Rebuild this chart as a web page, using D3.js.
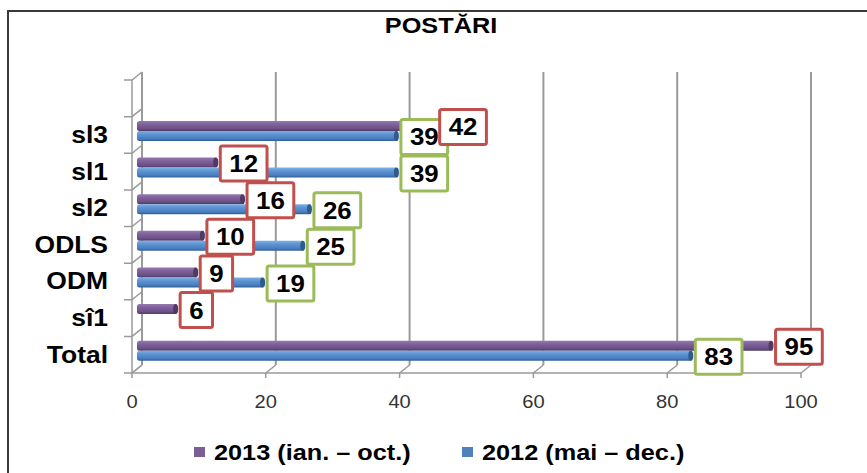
<!DOCTYPE html>
<html lang="ro">
<head>
<meta charset="UTF-8">
<title>POSTĂRI</title>
<script src="https://d3js.org/d3.v7.min.js"></script>
<style>
  body { margin: 0; background: #fff; }
  svg { display: block; font-family: "Liberation Sans", Arial, sans-serif; }
</style>
</head>
<body>
<script>
// data (top to bottom, first band is empty in the original)
const categories = ["", "sl3", "sl1", "sl2", "ODLS", "ODM", "sî1", "Total"];
const series = ["2013 (ian. – oct.)", "2012 (mai – dec.)"];
const values2013 = [null, 42, 12, 16, 10, 9, 6, 95];
const values2012 = [null, 39, 39, 26, 25, 19, null, 83];
const ticks = [0, 20, 40, 60, 80, 100];

const W = 867, H = 473;
const sx = 1.15;           // the original text is a bit stretched
const depth = { dx: 10, dy: -8 };
const half = { dx: 5, dy: -4 };

const svg = d3.select("body").append("svg")
  .attr("width", W).attr("height", H);

const defs = svg.append("defs");
function grad(id, stops) {
  const g = defs.append("linearGradient").attr("id", id)
    .attr("x1", 0).attr("y1", 0).attr("x2", 0).attr("y2", 1);
  stops.forEach(s => g.append("stop").attr("offset", s[0]).attr("stop-color", s[1]));
}
grad("gPurple", [[0, "#9479b0"], [0.35, "#7f619b"], [0.75, "#6d5187"], [1, "#4f3a64"]]);
grad("gBlue", [[0, "#7fb0e6"], [0.35, "#5d93d3"], [0.75, "#4a7fc0"], [1, "#335f96"]]);

const colors = ["url(#gPurple)", "url(#gBlue)"];
const capColors = ["#4e3a63", "#30598c"];
const legendColors = ["#7b5e96", "#4f81bd"];
const boxColors = ["#c0504d", "#9bbb59"];

// frame
svg.append("rect")
  .attr("x", 8).attr("y", 11).attr("width", W).attr("height", H)
  .attr("fill", "none").attr("stroke", "#3a3a3a").attr("stroke-width", 2);

function stretchedText(sel, x, y, txt, size, weight, anchor, fill, k) {
  return sel.append("text")
    .attr("transform", `translate(${x},${y}) scale(${k || sx},1)`)
    .attr("text-anchor", anchor)
    .attr("font-size", size)
    .attr("font-weight", weight)
    .attr("fill", fill || "#000")
    .text(txt);
}

// title
stretchedText(svg, 441, 33, "POSTĂRI", 22, "bold", "middle");

const x = d3.scaleLinear().domain([0, 100]).range([132, 801]);
const y = d3.scaleBand().domain(categories).range([80, 373]);
const yIn = d3.scaleBand().domain(series).range([0, y.bandwidth()]).paddingOuter(0.83);

const grid = svg.append("g").attr("stroke", "#9a9a9a").attr("fill", "none");
const yTop = y.range()[0], yBottom = y.range()[1];

// back wall gridlines
ticks.forEach(t => {
  grid.append("line")
    .attr("x1", x(t) + depth.dx).attr("x2", x(t) + depth.dx)
    .attr("y1", yTop + depth.dy).attr("y2", yBottom + depth.dy)
    .attr("stroke-width", 2);
  // floor slant + tick
  grid.append("path")
    .attr("d", `M${x(t)},${yBottom + 5}V${yBottom}L${x(t) + depth.dx},${yBottom + depth.dy}`)
    .attr("stroke-width", 1.5);
});
// floor front line
grid.append("line")
  .attr("x1", x(0)).attr("x2", x(100))
  .attr("y1", yBottom).attr("y2", yBottom).attr("stroke-width", 1.5);
// left wall
grid.append("line")
  .attr("x1", x(0)).attr("x2", x(0)).attr("y1", yTop).attr("y2", yBottom)
  .attr("stroke-width", 1.5);
const bounds = categories.map(c => y(c)).concat([yBottom]);
bounds.forEach(b => {
  grid.append("path")
    .attr("d", `M${x(0) - 8},${b}H${x(0)}L${x(0) + depth.dx},${b + depth.dy}`)
    .attr("stroke-width", 1.5);
});

// tick labels
const tl = svg.append("g");
ticks.forEach(t => stretchedText(tl, x(t), 408, String(t), 17.5, "normal", "middle", "#333"));

// category labels
const cl = svg.append("g");
categories.forEach(c => {
  if (c) stretchedText(cl, 108, y(c) + y.bandwidth() / 2 + 8, c, 23, "bold", "end");
});

// bars
const allValues = [values2013, values2012];
const bars = svg.append("g");
const barInfo = [];
categories.forEach((c, i) => {
  series.forEach((s, k) => {
    const v = allValues[k][i];
    if (v == null) return;
    const y0 = y(c) + yIn(s) + half.dy;
    const h = yIn.bandwidth();
    const x0 = x(0) + half.dx, x1 = x(v) + half.dx;
    bars.append("rect")
      .attr("x", x0).attr("y", y0).attr("width", x1 - x0).attr("height", h)
      .attr("rx", 2.5).attr("fill", colors[k]);
    bars.append("ellipse")
      .attr("cx", x1 - 1.5).attr("cy", y0 + h / 2).attr("rx", 2.5).attr("ry", h / 2)
      .attr("fill", capColors[k]);
    barInfo.push({ i, k, v, end: x1, cy: y0 + h / 2 });
  });
});

// data labels: 2012 (green) first, then 2013 (red) on top
const labels = svg.append("g");
const boxes = {};
const lsx = 1.1;
[1, 0].forEach(k => {
  barInfo.filter(d => d.k === k).forEach(d => {
    const g = labels.append("g");
    const txt = stretchedText(g, 0, 0, String(d.v), 23.5, "bold", "middle", "#000", lsx);
    const tw = txt.node().getComputedTextLength() * lsx;
    const bw = tw + 18, bh = 35;
    let bx = d.end + 3;
    const by = d.cy + 1 - bh / 2;
    const o = boxes[d.i];
    if (o && bx < o.x + o.w && bx + bw > o.x && by < o.y + o.h && by + bh > o.y) {
      bx = o.x + o.w - 8;
    }
    boxes[d.i] = { x: bx, y: by, w: bw, h: bh };
    g.insert("rect", "text")
      .attr("x", bx).attr("y", by).attr("width", bw).attr("height", bh)
      .attr("rx", 2).attr("fill", "#fff")
      .attr("stroke", boxColors[k]).attr("stroke-width", 3);
    txt.attr("transform", `translate(${bx + bw / 2},${by + bh / 2 + 8.5}) scale(${lsx},1)`);
  });
});

// legend
const legend = svg.append("g");
const legendX = [194, 462];
series.forEach((s, k) => {
  legend.append("rect")
    .attr("x", legendX[k]).attr("y", 447).attr("width", 11).attr("height", 10)
    .attr("fill", legendColors[k]);
  stretchedText(legend, legendX[k] + 20, 460, s, 22, "bold", "start");
});
</script>
</body>
</html>
